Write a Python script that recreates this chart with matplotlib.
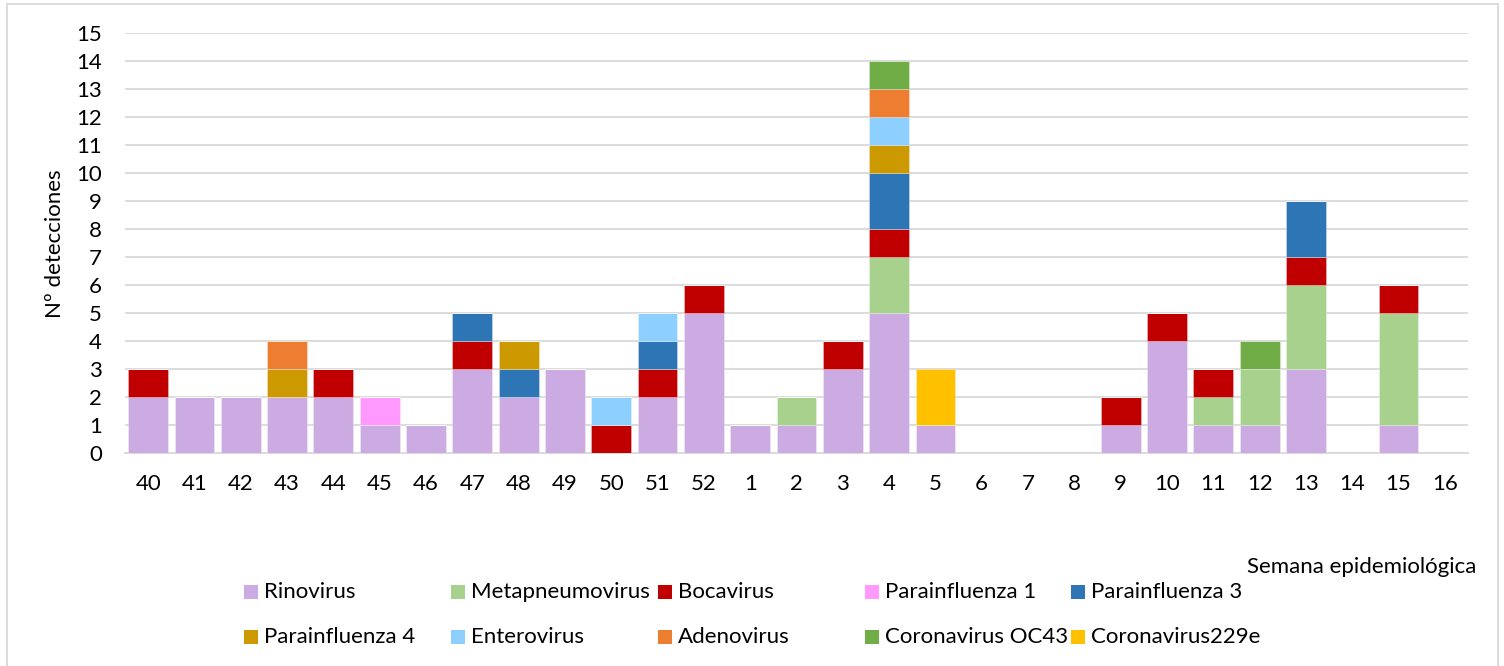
import matplotlib
matplotlib.use("Agg")
import matplotlib.pyplot as plt
from matplotlib.patches import Rectangle
import numpy as np

plt.rcParams['font.family'] = ['Lato', 'DejaVu Sans']

weeks = ["40", "41", "42", "43", "44", "45", "46", "47", "48", "49", "50", "51", "52",
         "1", "2", "3", "4", "5", "6", "7", "8", "9", "10", "11", "12", "13", "14", "15", "16"]

rinovirus       = [2, 2, 2, 2, 2, 1, 1, 3, 2, 3, 0, 2, 5, 1, 1, 3, 5, 1, 0, 0, 0, 1, 4, 1, 1, 3, 0, 1, 0]
metapneumovirus = [0, 0, 0, 0, 0, 0, 0, 0, 0, 0, 0, 0, 0, 0, 1, 0, 2, 0, 0, 0, 0, 0, 0, 1, 2, 3, 0, 4, 0]
bocavirus       = [1, 0, 0, 0, 1, 0, 0, 1, 0, 0, 1, 1, 1, 0, 0, 1, 1, 0, 0, 0, 0, 1, 1, 1, 0, 1, 0, 1, 0]
parainfluenza1  = [0, 0, 0, 0, 0, 1, 0, 0, 0, 0, 0, 0, 0, 0, 0, 0, 0, 0, 0, 0, 0, 0, 0, 0, 0, 0, 0, 0, 0]
parainfluenza3  = [0, 0, 0, 0, 0, 0, 0, 1, 1, 0, 0, 1, 0, 0, 0, 0, 2, 0, 0, 0, 0, 0, 0, 0, 0, 2, 0, 0, 0]
parainfluenza4  = [0, 0, 0, 1, 0, 0, 0, 0, 1, 0, 0, 0, 0, 0, 0, 0, 1, 0, 0, 0, 0, 0, 0, 0, 0, 0, 0, 0, 0]
enterovirus     = [0, 0, 0, 0, 0, 0, 0, 0, 0, 0, 1, 1, 0, 0, 0, 0, 1, 0, 0, 0, 0, 0, 0, 0, 0, 0, 0, 0, 0]
adenovirus      = [0, 0, 0, 1, 0, 0, 0, 0, 0, 0, 0, 0, 0, 0, 0, 0, 1, 0, 0, 0, 0, 0, 0, 0, 0, 0, 0, 0, 0]
coronavirus_oc43 = [0, 0, 0, 0, 0, 0, 0, 0, 0, 0, 0, 0, 0, 0, 0, 0, 1, 0, 0, 0, 0, 0, 0, 0, 1, 0, 0, 0, 0]
coronavirus_229e = [0, 0, 0, 0, 0, 0, 0, 0, 0, 0, 0, 0, 0, 0, 0, 0, 0, 2, 0, 0, 0, 0, 0, 0, 0, 0, 0, 0, 0]

series_names = ["Rinovirus", "Metapneumovirus", "Bocavirus", "Parainfluenza 1", "Parainfluenza 3",
                "Parainfluenza 4", "Enterovirus", "Adenovirus", "Coronavirus OC43", "Coronavirus229e"]
series_values = [rinovirus, metapneumovirus, bocavirus, parainfluenza1, parainfluenza3,
                 parainfluenza4, enterovirus, adenovirus, coronavirus_oc43, coronavirus_229e]
colors = ["#CCABE3", "#A9D18E", "#C00000", "#FF99FF", "#2E75B6",
          "#CC9900", "#8DCFFF", "#ED7D31", "#70AD47", "#FFC000"]

W, H = 1504, 666
FS = 16
fig = plt.figure(figsize=(W / 100, H / 100), dpi=100)

def fx(px):
    return px / W

def fy(py):
    return 1 - py / H

ax = fig.add_axes([fx(125), fy(453), fx(1468) - fx(125), fy(33) - fy(453)])

x = np.arange(len(weeks))
bottom = np.zeros(len(weeks))
for name, vals, c in zip(series_names, series_values, colors):
    v = np.array(vals, dtype=float)
    ax.bar(x, v, bottom=bottom, width=0.86, color=c, label=name, zorder=3,
           edgecolor=(1, 1, 1, 0.35), linewidth=0.6)
    bottom += v

ax.set_xlim(-0.5, len(weeks) - 0.5)
ax.set_ylim(0, 15)
ax.set_yticks(range(0, 16))
ax.set_xticks(x)
ax.set_xticklabels(weeks)
ax.yaxis.grid(True, color="#D9D9D9", linewidth=1.3, zorder=0)
ax.set_axisbelow(True)
for s in ["top", "right", "left"]:
    ax.spines[s].set_visible(False)
ax.spines["bottom"].set_color("#D9D9D9")
ax.spines["bottom"].set_linewidth(1.3)
ax.tick_params(axis="both", length=0, labelsize=FS, colors="#000000")
ax.tick_params(axis="x", pad=15)
ax.tick_params(axis="y", pad=16.5)

fig.text(fx(55), fy(244), "Nº detecciones", rotation=90, ha="center", va="center", fontsize=FS)
fig.text(fx(1476), fy(567), "Semana epidemiológica", ha="right", va="center", fontsize=FS)

# legend (manual layout, two rows of five)
col_x = [244, 451, 658, 865, 1071]
row_y = [592, 637]
for i, (name, c) in enumerate(zip(series_names, colors)):
    r, col = divmod(i, 5)
    mx, my = col_x[col], row_y[r]
    fig.add_artist(Rectangle((fx(mx), fy(my + 7)), 14 / W, 14 / H,
                             transform=fig.transFigure, facecolor=c, edgecolor="none"))
    fig.text(fx(mx + 20), fy(my), name, ha="left", va="center", fontsize=FS)

# outer border
fig.add_artist(Rectangle((fx(7), fy(700)), fx(1498) - fx(7), fy(4) - fy(700),
                         transform=fig.transFigure, facecolor="none",
                         edgecolor="#D9D9D9", linewidth=1.3, clip_on=False))

fig.savefig("out.png", dpi=100)
